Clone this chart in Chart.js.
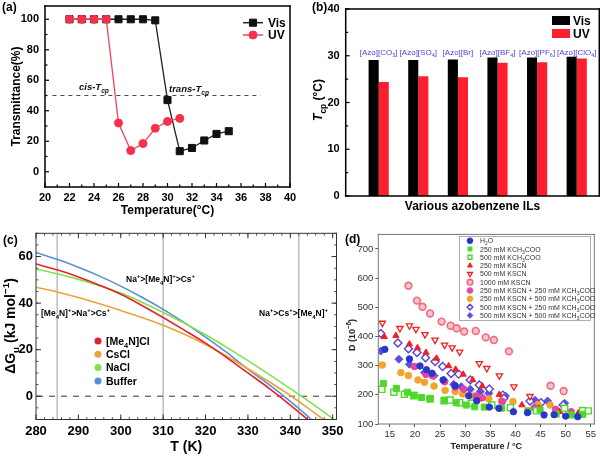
<!DOCTYPE html>
<html><head><meta charset="utf-8"><title>Figure</title>
<script src="https://cdn.jsdelivr.net/npm/chart.js@4.4.1/dist/chart.umd.min.js"></script>
<style>
html,body{margin:0;padding:0;background:#fff;}
#fig{position:relative;width:600px;height:456px;overflow:hidden;background:#fff;}
#fig canvas{position:absolute;}
</style></head>
<body>
<div id="fig">
<canvas id="pa" width="300" height="225" style="left:0;top:0;width:300px;height:225px"></canvas>
<canvas id="pb" width="300" height="225" style="left:300px;top:0;width:300px;height:225px"></canvas>
<canvas id="pc" width="350" height="231" style="left:0;top:225px;width:350px;height:231px"></canvas>
<canvas id="pd" width="260" height="231" style="left:340px;top:225px;width:260px;height:231px"></canvas>
</div>
<script>
// ================= DATA =================
// ---- Panel (a): transmittance vs temperature ----
const aVisTemp = [22,23,24,25,26,27,28,29,30,31,32,33,34,35];
const aVis     = [100,100,100,100,100,100,100,99.3,47,13.5,15.6,20.5,24.8,26.6];
const aUVTemp  = [22,23,24,25,26,27,28,29,30,31];
const aUV      = [100,100,100,100,32,13.9,18.5,28.5,33,35];
const aRefTemp = [20.6,37.6];
const aRefVal  = [50,50];
const aXTicks  = [20,22,24,26,28,30,32,34,36,38,40];
const aYTicks  = [0,20,40,60,80,100];

// ---- Panel (b): Tcp of azobenzene ILs ----
const bILs   = ['[Azo][CO_{3}]','[Azo][SO_{4}]','[Azo][Br]','[Azo][BF_{4}]','[Azo][PF_{6}]','[Azo][ClO_{4}]'];
const bVis   = [29.1,29.1,29.2,29.6,29.6,29.8];
const bUV    = [24.4,25.6,25.4,28.5,28.6,29.4];
const bYTicks = [0,10,20,30,40];

// ---- Panel (c): ΔGu vs T ----
const cTemp   = [280,285,290,295,300,305,310,315,320,325,330,335,340,345,350];
const cMe4NCl = [56.8,54.3,51.2,47.7,43.8,39.0,33.8,28.4,22.8,16.6,10.0,3.4,-3.8,-11.4,-19.5];
const cCsCl   = [46.8,44.8,42.4,39.7,36.8,33.8,30.5,26.6,22.2,17.2,11.8,6.2,0.3,-6.2,-12.9];
const cNaCl   = [54.7,52.6,50.2,47.5,44.3,40.4,36.0,31.4,26.4,21.0,15.3,9.4,3.3,-3.0,-9.6];
const cBuffer = [61.8,58.8,55.4,51.6,47.3,42.5,37.3,31.6,25.4,18.8,11.6,5.0,-2.2,-10.0,-18.2];
const cRegionT = [285,310,342];
const cXTicks = [280,290,300,310,320,330,340,350];
const cYTicks = [0,20,40,60];

// ---- Panel (d): D vs temperature ----
const dH2OT = [14.0,18.9,21.0,22.3,23.4,25.6,28.0,30.7,32.3,34.8,36.7,39.6,42.4,45.7,47.7,50.0,52.4];
const dH2O  = [356,323,299,286,274,251,231,197,180,158,154,142,139,131,132,127,125];
const dKAc250T = [13.7,16.3,18.5,19.8,21.3,23.0,25.9,28.2,30.2,31.9,33.8,37.2,42.5,44.9,48.1,51.1,53.4];
const dKAc250  = [239,222,209,199,191,188,182,173,165,159,158,154,145,148,134,131,133];
const dKAc500T = [13.4,15.8,17.9,19.8,23.0,25.8,27.0,28.9,31.2,35.3,39.0,44.2,49.8,53.4,54.5];
const dKAc500  = [219,209,202,197,186,180,182,173,171,165,156,145,154,146,145];
const dSCN250T = [13.9,16.2,18.9,20.5,22.2,24.3,26.7,28.1,29.6,31.5,33.4,36.8,41.3,44.7,48.8,52.5];
const dSCN250  = [399,403,374,361,345,325,299,287,270,251,230,201,165,154,142,137];
const dSCN500T = [13.5,17.0,18.9,20.2,22.0,24.0,25.9,27.4,28.9,32.8,34.3,36.8,39.7,42.9];
const dSCN500  = [446,428,437,425,407,388,371,362,347,308,291,266,228,195];
const dSCN1000T = [18.7,20.4,21.5,23.0,25.3,27.1,28.3,29.8,32.1,34.1,35.7,38.7,47.0,49.6];
const dSCN1000  = [574,523,502,479,451,437,428,417,419,397,388,349,231,213];
const dMix250_250T = [19.9,22.2,23.5,25.9,28.0,29.7,32.2,33.4,37.4,43.8,44.8,48.0,51.1,53.4];
const dMix250_250  = [297,270,265,245,226,219,196,190,177,156,150,150,142,137];
const dMix250_500T = [13.5,17.2,18.7,20.6,21.9,23.8,26.0,28.0,29.5,31.5,33.0,34.7,37.2,39.5,44.5,46.9];
const dMix250_500  = [302,276,266,251,243,230,215,211,203,196,188,186,179,177,167,165];
const dMix500_250T = [13.2,16.6,18.7,20.4,22.1,24.0,25.5,27.2,28.7,31.0,32.8,34.8,37.5,37.7,42.9,45.1,49.5];
const dMix500_250  = [410,378,358,345,327,314,297,273,271,251,234,220,199,188,179,173,165];
const dMix500_500T = [13.2,16.8,18.9,21.9,23.8,25.8,27.7,29.2,31.0,33.0,34.7,38.0,43.9,46.4,49.8];
const dMix500_500  = [350,322,305,276,266,250,236,228,219,211,205,196,181,179,171];
const dXTicks = [15,20,25,30,35,40,45,50,55];
const dYTicks = [100,200,300,400,500,600,700];

// ================= HELPERS =================
const FONT = "'Liberation Sans', Arial, Helvetica, sans-serif";
Chart.defaults.font.family = FONT;
Chart.defaults.color = '#000';
const pts = (xs, ys) => xs.map((x, i) => ({x: x, y: ys[i]}));
const fixedTicks = vals => s => { s.ticks = vals.map(v => ({value: v})); };
const fitX = h => s => { s.height = h; s.paddingLeft = 0; s.paddingRight = 0; };
const fitY = w => s => { s.width = w; s.paddingTop = 0; s.paddingBottom = 0; };
function steps(a, b, st) { const r = []; for (let v = a; v <= b + 1e-9; v += st) r.push(+v.toFixed(6)); return r; }

function parseRich(str) {
  const out = []; const re = /([_^])\{([^}]*)\}/g; let last = 0, m;
  while ((m = re.exec(str))) {
    if (m.index > last) out.push({t: str.slice(last, m.index)});
    out.push({t: m[2], s: m[1] === '_' ? 'sub' : 'sup'});
    last = re.lastIndex;
  }
  if (last < str.length) out.push({t: str.slice(last)});
  return out;
}
function rich(ctx, content, x, y, o) {
  const parts = typeof content === 'string' ? parseRich(content) : content;
  ctx.save();
  ctx.translate(x, y);
  if (o.rotate) ctx.rotate(o.rotate);
  ctx.fillStyle = o.color || '#000';
  ctx.textBaseline = 'alphabetic';
  ctx.textAlign = 'left';
  const segs = parts.map(p => {
    const sz = p.s ? o.size * 0.7 : o.size;
    const it = (p.i !== undefined ? p.i : o.italic) ? 'italic ' : '';
    const font = it + (o.weight || 'normal') + ' ' + sz + 'px ' + (o.family || FONT);
    ctx.font = font;
    return {t: p.t, font: font, w: ctx.measureText(p.t).width,
            dy: p.s === 'sub' ? o.size * 0.3 : (p.s === 'sup' ? -o.size * 0.42 : 0)};
  });
  const total = segs.reduce((a, s) => a + s.w, 0);
  let cx = o.align === 'center' ? -total / 2 : (o.align === 'right' ? -total : 0);
  const base = o.size * 0.36;
  segs.forEach(s => { ctx.font = s.font; ctx.fillText(s.t, cx, base + s.dy); cx += s.w; });
  ctx.restore();
}
function marker(ctx, style, x, y, r, fill, stroke, lw, rot) {
  ctx.save(); ctx.translate(x, y);
  if (rot) ctx.rotate(rot * Math.PI / 180);
  ctx.beginPath();
  if (style === 'rect') { const h = r * Math.SQRT1_2; ctx.rect(-h, -h, 2 * h, 2 * h); }
  else if (style === 'rectRot') { ctx.moveTo(0, -r); ctx.lineTo(r, 0); ctx.lineTo(0, r); ctx.lineTo(-r, 0); ctx.closePath(); }
  else if (style === 'triangle') { ctx.moveTo(0, -r); ctx.lineTo(r * 0.866, r * 0.5); ctx.lineTo(-r * 0.866, r * 0.5); ctx.closePath(); }
  else ctx.arc(0, 0, r, 0, Math.PI * 2);
  if (fill) { ctx.fillStyle = fill; ctx.fill(); }
  if (stroke && lw) { ctx.strokeStyle = stroke; ctx.lineWidth = lw; ctx.stroke(); }
  ctx.restore();
}
// axis box drawn with filled rectangles
function drawBox(chart, color, lw) {
  const ctx = chart.ctx, a = chart.chartArea;
  const L = a.left, T = a.top, R = a.right, B = a.bottom, h = lw / 2;
  ctx.save();
  ctx.fillStyle = color;
  ctx.fillRect(L - h, T - h, R - L + lw, lw);
  ctx.fillRect(L - h, B - h, R - L + lw, lw);
  ctx.fillRect(L - h, T - h, lw, B - T + lw);
  ctx.fillRect(R - h, T - h, lw, B - T + lw);
  ctx.restore();
}
function drawInTicks(chart, id, vals, len, sides, color, lw) {
  const ctx = chart.ctx, a = chart.chartArea, s = chart.scales[id], h = lw / 2;
  ctx.save(); ctx.fillStyle = color;
  vals.forEach(v => {
    const p = s.getPixelForValue(v);
    sides.forEach(side => {
      if (side === 'bottom') ctx.fillRect(p - h, a.bottom - len, lw, len);
      if (side === 'top')    ctx.fillRect(p - h, a.top, lw, len);
      if (side === 'left')   ctx.fillRect(a.left, p - h, len, lw);
      if (side === 'right')  ctx.fillRect(a.right - len, p - h, len, lw);
    });
  });
  ctx.restore();
}
const deco = {};
Chart.register({
  id: 'deco',
  beforeDatasetsDraw(chart) { const d = deco[chart.canvas.id]; if (d && d.under) d.under(chart); },
  afterDraw(chart) { const d = deco[chart.canvas.id]; if (d && d.over) d.over(chart); }
});
function baseOpts(pad) {
  return {responsive: false, maintainAspectRatio: false, animation: false, devicePixelRatio: 1, events: [],
          layout: {padding: pad}, plugins: {legend: {display: false}, tooltip: {enabled: false}}};
}
const noGrid = () => ({display: false, drawTicks: false});
const noBorder = () => ({display: false});

// ================= PANEL (a) =================
(function () {
  const tickFont = {family: FONT, size: 11, weight: 'bold'};
  const o = baseOpts({top: 2, right: 10, left: 0, bottom: 0});
  o.scales = {
    x: {type: 'linear', min: 20, max: 40, afterBuildTicks: fixedTicks(aXTicks), afterFit: fitX(38),
        grid: noGrid(), border: noBorder(), ticks: {font: tickFont, color: '#000', padding: 4, maxRotation: 0, autoSkip: false},
        title: {display: true, text: 'Temperature(°C)', color: '#000', font: {family: FONT, size: 12, weight: 'bold'}, padding: {top: 0, bottom: 7}}},
    y: {type: 'linear', min: -10, max: 108.7, afterBuildTicks: fixedTicks(aYTicks), afterFit: fitY(45),
        grid: noGrid(), border: noBorder(), ticks: {font: tickFont, color: '#000', padding: 6},
        title: {display: true, text: 'Transmittance(%)', color: '#000', font: {family: FONT, size: 12, weight: 'bold'}, padding: {top: 9, bottom: 0}}}
  };
  deco.pa = {
    over(chart) {
      const ctx = chart.ctx;
      drawBox(chart, '#000', 1.5);
      drawInTicks(chart, 'x', aXTicks, 4, ['bottom'], '#000', 1.2);
      drawInTicks(chart, 'x', steps(21, 39, 2), 2.5, ['bottom'], '#000', 1.2);
      drawInTicks(chart, 'y', aYTicks, 4, ['left'], '#000', 1.2);
      drawInTicks(chart, 'y', steps(10, 90, 20), 2.5, ['left'], '#000', 1.2);
      const ds = chart.data.datasets;
      [[0, 22.7], [1, 35]].forEach(([i, y]) => {
        const d = ds[i];
        ctx.save(); ctx.strokeStyle = d.borderColor; ctx.lineWidth = 1.5;
        ctx.beginPath(); ctx.moveTo(243, y); ctx.lineTo(263, y); ctx.stroke(); ctx.restore();
        marker(ctx, d.pointStyle, 253, y, d.pointRadius, d.pointBackgroundColor, d.pointBorderColor, 1, 0);
        rich(ctx, d.label, 268, y, {size: 12, weight: 'bold'});
      });
      rich(ctx, '(a)', 2, 7, {size: 12, weight: 'bold'});
      rich(ctx, 'cis-T_{cp}', 79, 87, {size: 9.5, weight: 'bold', italic: true, color: '#111'});
      rich(ctx, 'trans-T_{cp}', 169, 89, {size: 9.5, weight: 'bold', italic: true, color: '#111'});
    }
  };
  new Chart(document.getElementById('pa'), {
    type: 'line',
    data: {datasets: [
      {label: 'Vis', data: pts(aVisTemp, aVis), borderColor: '#222', borderWidth: 1.3, pointStyle: 'rect', pointRadius: 5,
       pointBackgroundColor: '#111', pointBorderColor: '#111', pointBorderWidth: 1, tension: 0, order: 1},
      {label: 'UV', data: pts(aUVTemp, aUV), borderColor: '#f2455a', borderWidth: 1.3, pointStyle: 'circle', pointRadius: 4,
       pointBackgroundColor: '#f5304a', pointBorderColor: '#f5304a', pointBorderWidth: 1, tension: 0, order: 0},
      {label: 'Tcp level', data: pts(aRefTemp, aRefVal), borderColor: '#3d4a78', borderWidth: 1, borderDash: [4, 4],
       pointRadius: 0, tension: 0, order: 2}
    ]},
    options: o
  });
})();

// ================= PANEL (b) =================
(function () {
  const bIdx = bILs.map((_, i) => i + 1);
  const o = baseOpts({top: 9, right: 0.7, left: 0, bottom: 0});
  o.scales = {
    x: {type: 'linear', offset: false, min: 0.167, max: 6.57, afterFit: fitX(29),
        grid: Object.assign({offset: false}, noGrid()), border: noBorder(), ticks: {display: false},
        title: {display: true, text: 'Various azobenzene ILs', color: '#000', font: {family: FONT, size: 12, weight: 'bold'}, padding: {top: 0, bottom: 11}}},
    y: {type: 'linear', min: 0, max: 40, afterBuildTicks: fixedTicks(bYTicks), afterFit: fitY(45.7),
        grid: noGrid(), border: noBorder(), ticks: {font: {family: FONT, size: 11, weight: 'bold'}, color: '#000', padding: 6}}
  };
  deco.pb = {
    over(chart) {
      const ctx = chart.ctx;
      drawBox(chart, '#000', 1.5);
      drawInTicks(chart, 'y', bYTicks, 4, ['left'], '#000', 1.2);
      drawInTicks(chart, 'y', steps(5, 35, 10), 2.5, ['left'], '#000', 1.2);
      const xs = chart.scales.x, ys = chart.scales.y;
      bILs.forEach((name, i) => {
        rich(ctx, name, xs.getPixelForValue(bIdx[i]), ys.getPixelForValue(30.8), {size: 8, color: '#4848d8', align: 'center'});
      });
      const ds = chart.data.datasets;
      [[0, 20.5], [1, 33.5]].forEach(([i, y]) => {
        ctx.save(); ctx.fillStyle = ds[i].backgroundColor; ctx.fillRect(252, y - 4.5, 18, 9); ctx.restore();
        rich(ctx, ds[i].label, 273, y, {size: 12, weight: 'bold'});
      });
      rich(ctx, '(b)', 12, 7, {size: 12, weight: 'bold'});
      rich(ctx, [{t: 'T', i: true}, {t: 'cp', s: 'sub'}, {t: ' (°C)'}], 18, 100,
           {size: 12, weight: 'bold', align: 'center', rotate: -Math.PI / 2});
    }
  };
  new Chart(document.getElementById('pb'), {
    type: 'bar',
    data: {datasets: [
      {label: 'Vis', data: pts(bIdx, bVis), backgroundColor: '#000', categoryPercentage: 0.51, barPercentage: 1.0},
      {label: 'UV', data: pts(bIdx, bUV), backgroundColor: '#ff1e2d', categoryPercentage: 0.51, barPercentage: 1.0}
    ]},
    options: o
  });
})();

// ================= PANEL (c) =================
(function () {
  const o = baseOpts({top: 8.3, right: 13.5, left: 0, bottom: 0});
  const tf = {family: FONT, size: 13, weight: 'bold'};
  o.scales = {
    x: {type: 'linear', min: 280, max: 350.9, afterBuildTicks: fixedTicks(cXTicks), afterFit: fitX(36.5),
        grid: noGrid(), border: noBorder(), ticks: {font: tf, color: '#000', padding: 4, maxRotation: 0, autoSkip: false},
        title: {display: true, text: 'T (K)', color: '#000', font: {family: FONT, size: 14, weight: 'bold'}, padding: {top: 0, bottom: 0}}},
    y: {type: 'linear', min: -10, max: 70, afterBuildTicks: fixedTicks(cYTicks), afterFit: fitY(36),
        grid: noGrid(), border: noBorder(), ticks: {font: tf, color: '#000', padding: 3}}
  };
  deco.pc = {
    under(chart) {
      const {ctx, chartArea: a} = chart; const xs = chart.scales.x, ys = chart.scales.y;
      ctx.save(); ctx.fillStyle = '#b7c4ca';
      cRegionT.forEach(t => { const p = xs.getPixelForValue(t); ctx.fillRect(p - 0.8, a.top, 1.6, a.bottom - a.top); });
      const z = ys.getPixelForValue(0);
      ctx.fillStyle = '#555';
      for (let x = a.left + 1; x < a.right; x += 12) ctx.fillRect(x, z - 0.6, Math.min(6, a.right - x), 1.2);
      ctx.restore();
    },
    over(chart) {
      const ctx = chart.ctx;
      drawBox(chart, '#333', 1);
      drawInTicks(chart, 'x', cXTicks, 5, ['bottom', 'top'], '#333', 1);
      drawInTicks(chart, 'x', steps(282, 350, 2), 2.5, ['bottom', 'top'], '#333', 0.8);
      drawInTicks(chart, 'y', cYTicks, 5, ['left', 'right'], '#333', 1);
      drawInTicks(chart, 'y', steps(-5, 70, 5), 2.5, ['left', 'right'], '#333', 0.8);
      chart.data.datasets.forEach((d, i) => {
        const y = 116 + i * 13.3;
        marker(ctx, 'circle', 98, y, 3.5, d.borderColor, null, 0, 0);
        rich(ctx, d.label, 106, y, {size: 10.5, weight: 'bold'});
      });
      rich(ctx, '[Me_{4}N]^{+}>Na^{+}>Cs^{+}', 41, 88, {size: 8.5, weight: 'bold'});
      rich(ctx, 'Na^{+}>[Me_{4}N]^{+}>Cs^{+}', 126, 54, {size: 8.5, weight: 'bold'});
      rich(ctx, 'Na^{+}>Cs^{+}>[Me_{4}N]^{+}', 259, 88, {size: 8.5, weight: 'bold'});
      rich(ctx, '(c)', 3, 15, {size: 12, weight: 'bold'});
      rich(ctx, 'ΔG_{u} (kJ mol^{−1})', 10, 101, {size: 14, weight: 'bold', align: 'center', rotate: -Math.PI / 2});
    }
  };
  const line = (label, vals, color) => ({label: label, data: pts(cTemp, vals), borderColor: color, backgroundColor: color,
    borderWidth: 1.6, pointRadius: 0, cubicInterpolationMode: 'monotone'});
  new Chart(document.getElementById('pc'), {
    type: 'line',
    data: {datasets: [
      line('[Me_{4}N]Cl', cMe4NCl, '#e8202e'),
      line('CsCl', cCsCl, '#e8a53a'),
      line('NaCl', cNaCl, '#7fe24e'),
      line('Buffer', cBuffer, '#5b8ed2')
    ]},
    options: o
  });
})();

// ================= PANEL (d) =================
(function () {
  const o = baseOpts({top: 9.4, right: 3.3, left: 0, bottom: 0});
  const tf = {family: FONT, size: 9.5};
  const g = () => ({display: true, drawOnChartArea: false, drawTicks: true, tickLength: 3, color: '#555', lineWidth: 1});
  o.scales = {
    x: {type: 'linear', min: 12.7, max: 55.7, afterBuildTicks: fixedTicks(dXTicks), afterFit: fitX(32),
        grid: g(), border: noBorder(), ticks: {font: tf, color: '#333', padding: 2, maxRotation: 0, autoSkip: false},
        title: {display: true, text: 'Temperature / °C', color: '#222', font: {family: FONT, size: 9, weight: 'bold'}, padding: {top: 0, bottom: 4.5}}},
    y: {type: 'linear', min: 100, max: 750, afterBuildTicks: fixedTicks(dYTicks), afterFit: fitY(38.3),
        grid: g(), border: noBorder(), ticks: {font: tf, color: '#333', padding: 2}}
  };
  deco.pd = {
    over(chart) {
      const ctx = chart.ctx;
      drawBox(chart, '#777', 1);
      ctx.save(); ctx.strokeStyle = '#999'; ctx.lineWidth = 0.8; ctx.strokeRect(119.5, 11.5, 131, 84); ctx.restore();
      chart.data.datasets.forEach((d, i) => {
        const y = 15.7 + i * 8.3;
        marker(ctx, d.pointStyle, 130, y, 2.8, d.pointBackgroundColor, d.pointBorderColor, d.pointBorderWidth, d.pointRotation || 0);
        rich(ctx, d.label, 140, y, {size: 7, color: '#333'});
      });
      rich(ctx, '(d)', 5, 14, {size: 12, weight: 'bold'});
      rich(ctx, 'D (10^{−6})', 12, 110, {size: 9, weight: 'bold', color: '#222', align: 'center', rotate: -Math.PI / 2});
    }
  };
  const sc = (label, xs, ys, style, fill, stroke, lw, r, rot) => ({label: label, data: pts(xs, ys), pointStyle: style,
    pointBackgroundColor: fill, pointBorderColor: stroke, pointBorderWidth: lw, pointRadius: r, pointRotation: rot || 0,
    backgroundColor: fill, borderColor: stroke, showLine: false});
  new Chart(document.getElementById('pd'), {
    type: 'scatter',
    data: {datasets: [
      sc('H_{2}O', dH2OT, dH2O, 'circle', '#2a36c8', '#2a36c8', 1, 3.2),
      sc('250 mM KCH_{3}COO', dKAc250T, dKAc250, 'rect', '#4fd82c', '#4fd82c', 1, 4.3),
      sc('500 mM KCH_{3}COO', dKAc500T, dKAc500, 'rect', '#ffffff', '#4fd82c', 1.4, 4.3),
      sc('250 mM KSCN', dSCN250T, dSCN250, 'triangle', '#ee2222', '#ee2222', 1, 3.6),
      sc('500 mM KSCN', dSCN500T, dSCN500, 'triangle', '#ffffff', '#ee2222', 1.3, 3.6, 180),
      sc('1000 mM KSCN', dSCN1000T, dSCN1000, 'circle', '#f9c2ca', '#f06a80', 1.6, 3.4),
      sc('250 mM KSCN + 250 mM KCH_{3}COO', dMix250_250T, dMix250_250, 'circle', '#e8449e', '#e8449e', 1, 3.3),
      sc('250 mM KSCN + 500 mM KCH_{3}COO', dMix250_500T, dMix250_500, 'circle', '#f5a42a', '#f5a42a', 1, 3.3),
      sc('500 mM KSCN + 250 mM KCH_{3}COO', dMix500_250T, dMix500_250, 'rectRot', '#ffffff', '#5a40da', 1.4, 4),
      sc('500 mM KSCN + 500 mM KCH_{3}COO', dMix500_500T, dMix500_500, 'rectRot', '#5b4ee2', '#5b4ee2', 1, 4)
    ]},
    options: o
  });
})();
</script>
</body></html>
